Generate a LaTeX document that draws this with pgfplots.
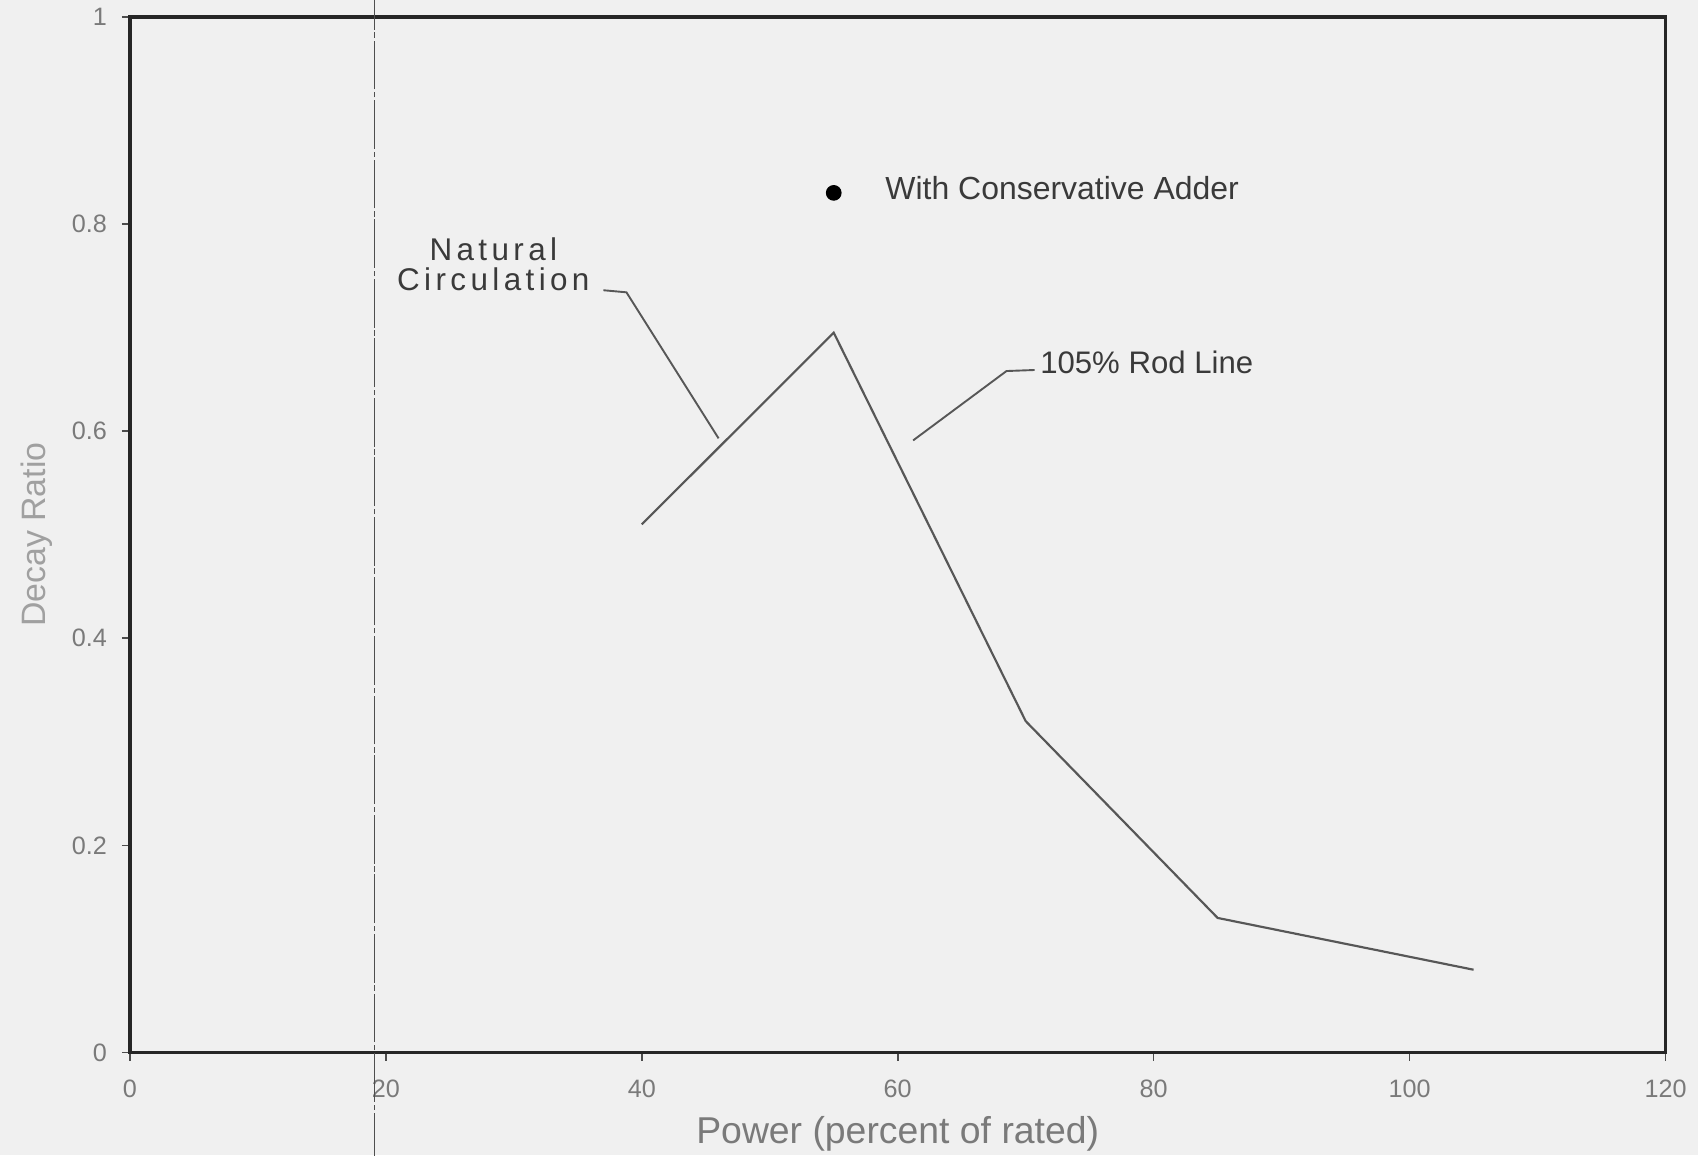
\documentclass[border=0pt]{standalone}
\usepackage{fontspec}
\setmainfont{Liberation Sans}
\newfontfamily\spacedfont[LetterSpace=14]{Liberation Sans}
\usepackage{pgfplots}
\pgfplotsset{compat=1.18}
\definecolor{bg}{HTML}{F0F0F0}
\definecolor{ink}{HTML}{3A3A3A}
\definecolor{tickgray}{HTML}{7A7A7A}
\definecolor{labgray}{HTML}{A0A0A0}
\begin{document}
\begin{tikzpicture}
\fill[bg, use as bounding box] (-48pt,-38pt) rectangle (579.2pt,388.8pt);
\begin{axis}[
  at={(0,0)}, anchor=south west, scale only axis,
  width=567.2pt, height=382.6pt,
  xmin=0, xmax=120, ymin=0, ymax=1, clip=false,
  axis line style={line width=1.3pt, black!85},
  xtick={0,20,40,60,80,100,120},
  ytick={0,0.2,0.4,0.6,0.8,1},
  yticklabels={0,0.2,0.4,0.6,0.8,1},
  xticklabels={0,20,40,60,80,100,120},
  tick align=outside, tick pos=left, major tick length=3pt,
  tick style={line width=0.6pt, black!70},
  ticklabel style={font=\fontsize{9.3}{10}\selectfont, text=tickgray},
  /pgf/number format/assume math mode=true,
  xticklabel style={yshift=-3.5pt},
  yticklabel style={xshift=-2pt},
  xlabel={Power (percent of rated)},
  ylabel={Decay Ratio},
  every axis x label/.style={at={(axis description cs:0.5,-0.078)}, anchor=center,
     font=\fontsize{13.8}{14}\selectfont, text=tickgray},
  every axis y label/.style={at={(axis description cs:-0.061,0.5)}, anchor=center, rotate=90,
     font=\fontsize{12.5}{13}\selectfont, text=labgray},
]
% reference line
\addplot[ink!90, line width=0.6pt, dash pattern=on 18pt off 1pt on 2pt off 1pt]
  coordinates {(19.1,-0.105) (19.1,1.02)};
% main curve
\addplot[ink!85, line width=0.8pt]
  coordinates {(40,0.51) (55,0.695) (70,0.32) (85,0.13) (105,0.08)};
% conservative adder point
\addplot[only marks, mark=*, mark size=2.7pt, black] coordinates {(55,0.83)};
% leader lines
\addplot[ink!85, line width=0.7pt] coordinates {(37.0,0.736) (38.8,0.734) (46.0,0.593)};
\addplot[ink!85, line width=0.7pt] coordinates {(61.2,0.591) (68.5,0.658) (70.7,0.659)};
% annotations
\node[align=center, font=\spacedfont\fontsize{11.6}{11.2}\selectfont, text=ink, inner sep=0pt]
  at (axis cs:28.4,0.761) {Natural\\Circulation};
\node[anchor=west, font=\fontsize{11.8}{12}\selectfont, text=ink, inner sep=0pt]
  at (axis cs:59.0,0.835) {With Conservative Adder};
\node[anchor=west, font=\fontsize{11.5}{12}\selectfont, text=ink, inner sep=0pt]
  at (axis cs:71.1,0.666) {105\% Rod Line};
\end{axis}
\end{tikzpicture}
\end{document}
